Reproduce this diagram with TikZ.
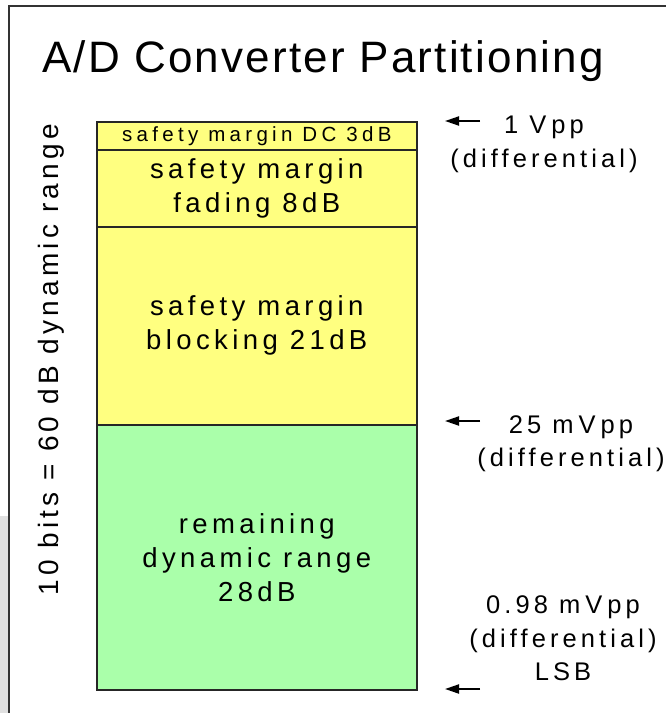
\documentclass[tikz,border=0pt]{standalone}
\usepackage{fontspec}
\setmainfont{Liberation Sans}[LetterSpace=16]
\newfontfamily\titlefont{Liberation Sans}[LetterSpace=5]
\newfontfamily\smallboxfont{Liberation Sans}[LetterSpace=21]
\newfontfamily\vertfont{Liberation Sans}[LetterSpace=15]
\usetikzlibrary{arrows.meta}
\definecolor{boxyellow}{HTML}{FFFF80}
\definecolor{boxgreen}{HTML}{AAFFAA}
\definecolor{framegray}{HTML}{333333}
\definecolor{sidegray}{HTML}{E0E0E0}
\newcommand{\vgap}{\hspace{5pt}}
\begin{document}
\begin{tikzpicture}[x=1pt,y=-1pt,
  seg/.style={draw=black!85, line width=1.6pt, minimum width=320pt, anchor=north west,
    inner sep=0pt, align=center, font=\fontsize{27.5}{34}\selectfont},
  lbl/.style={font=\fontsize{25.5}{33}\selectfont, inner sep=0pt, anchor=base},
  ptr/.style={-{Triangle[length=14pt,width=9pt]}, line width=2pt}]
\useasboundingbox (0,0) rectangle (666,713);
\fill[sidegray] (0,516) rectangle (8,713);
\draw[framegray, line width=2pt] (9,720) -- (9,6) -- (670,6);

\node[anchor=base west, font=\titlefont\fontsize{44}{50}\selectfont, inner sep=0pt] (title) at (42,72) {A/D Converter Partitioning};

\node[seg, fill=boxyellow, minimum height=28pt, font=\smallboxfont\fontsize{20.5}{24}\selectfont] (dc) at (96,121) {safety margin DC 3dB};
\node[seg, fill=boxyellow, minimum height=77pt] (fad) at (96,149) {safety margin\\fading 8dB};
\node[seg, fill=boxyellow, minimum height=198pt] (blk) at (96,226) {safety margin\\blocking 21dB};
\node[seg, fill=boxgreen, minimum height=265pt] (rem) at (96,424) {remaining\\dynamic range\\28dB};

\node[rotate=90, anchor=base, font=\vertfont\fontsize{28}{34}\selectfont, inner sep=0pt] (vert) at (58,360) {10 bits = 60 dB dynamic range};

\node[lbl] (v1a) at (544,133) {1 V\vgap pp};
\node[lbl] (v1b) at (544,167) {(differential)};
\node[lbl] (v2a) at (571,433) {25 m\vgap V\vgap pp};
\node[lbl] (v2b) at (571,466) {(differential)};
\node[lbl] (v3a) at (563,613) {0.98 m\vgap V\vgap pp};
\node[lbl] (v3b) at (563,647) {(differential)};
\node[lbl] (v3c) at (563,680) {LSB};

\coordinate (a1s) at (480,121); \coordinate (a1e) at (445,121);
\coordinate (a2s) at (480,421); \coordinate (a2e) at (445,421);
\coordinate (a3s) at (480,689); \coordinate (a3e) at (445,689);
\draw[ptr] (a1s) -- (a1e);
\draw[ptr] (a2s) -- (a2e);
\draw[ptr] (a3s) -- (a3e);
\end{tikzpicture}
\end{document}
